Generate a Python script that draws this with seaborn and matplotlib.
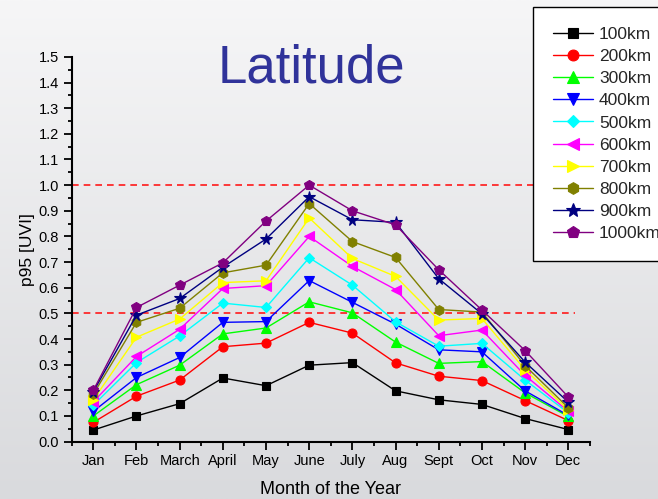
"""p95 UVI by month for altitudes 100-1000 km (latitude panel)."""

import matplotlib

matplotlib.use("Agg")
import matplotlib.pyplot as plt
import numpy as np
import pandas as pd
import seaborn as sns
from matplotlib.colors import LinearSegmentedColormap
from matplotlib.ticker import MultipleLocator

months = ["Jan", "Feb", "March", "April", "May", "June",
          "July", "Aug", "Sept", "Oct", "Nov", "Dec"]
altitudes = ["100km", "200km", "300km", "400km", "500km",
             "600km", "700km", "800km", "900km", "1000km"]

p95_100km = [0.045, 0.10, 0.148, 0.248, 0.218, 0.298, 0.308, 0.198, 0.163, 0.145, 0.090, 0.047]
p95_200km = [0.075, 0.177, 0.240, 0.370, 0.384, 0.465, 0.423, 0.307, 0.255, 0.238, 0.160, 0.082]
p95_300km = [0.100, 0.222, 0.298, 0.420, 0.443, 0.545, 0.502, 0.388, 0.305, 0.312, 0.190, 0.098]
p95_400km = [0.118, 0.250, 0.328, 0.465, 0.468, 0.628, 0.543, 0.458, 0.358, 0.350, 0.198, 0.102]
p95_500km = [0.142, 0.308, 0.412, 0.540, 0.523, 0.717, 0.610, 0.467, 0.372, 0.383, 0.240, 0.112]
p95_600km = [0.155, 0.332, 0.438, 0.597, 0.608, 0.800, 0.683, 0.593, 0.413, 0.435, 0.258, 0.118]
p95_700km = [0.163, 0.407, 0.478, 0.620, 0.627, 0.872, 0.714, 0.644, 0.474, 0.480, 0.280, 0.124]
p95_800km = [0.185, 0.465, 0.520, 0.658, 0.688, 0.928, 0.780, 0.718, 0.515, 0.505, 0.296, 0.132]
p95_900km = [0.195, 0.493, 0.558, 0.680, 0.790, 0.955, 0.865, 0.855, 0.635, 0.498, 0.310, 0.154]
p95_1000km = [0.200, 0.523, 0.610, 0.697, 0.860, 1.000, 0.900, 0.845, 0.670, 0.513, 0.355, 0.174]

thresholds = [1.0, 0.5]

series = [p95_100km, p95_200km, p95_300km, p95_400km, p95_500km,
          p95_600km, p95_700km, p95_800km, p95_900km, p95_1000km]

colors = ["#000000", "#ff0000", "#00ff00", "#0000ff", "#00ffff",
          "#ff00ff", "#ffff00", "#808000", "#000080", "#800080"]
marker_list = ["s", "o", "^", "v", "D", "<", ">", "h", "*", "p"]
marker_sizes = [5.5, 6.5, 7, 7, 5.5, 7, 7, 7, 8.5, 7.5]

frames = []
for alt, values in zip(altitudes, series):
    frames.append(pd.DataFrame({"month_idx": np.arange(len(months)),
                                "p95": values, "altitude": alt}))
df = pd.concat(frames, ignore_index=True)

sns.set_theme(style="ticks")
plt.rcParams["font.family"] = ["Liberation Sans", "DejaVu Sans"]

fig = plt.figure(figsize=(6.58, 4.99), dpi=100)

# light grey slide background
bg = fig.add_axes([0, 0, 1, 1], zorder=-10)
bg_cmap = LinearSegmentedColormap.from_list("bg", ["#f6f6f7", "#d9dadd"])
bg.imshow(np.linspace(0, 1, 256).reshape(-1, 1), aspect="auto", cmap=bg_cmap,
          extent=(0, 1, 0, 1))
bg.set_axis_off()

ax = fig.add_axes([0.109, 0.115, 0.7875, 0.771])
ax.set_facecolor("none")

sns.lineplot(
    data=df, x="month_idx", y="p95", hue="altitude", style="altitude",
    hue_order=altitudes, style_order=altitudes,
    palette=dict(zip(altitudes, colors)),
    markers=dict(zip(altitudes, marker_list)), dashes=False,
    linewidth=1, legend=False, sort=False, ax=ax,
)

series_lines = list(ax.lines[:len(altitudes)])
for line, size in zip(series_lines, marker_sizes):
    line.set_markeredgecolor(line.get_color())
    line.set_markerfacecolor(line.get_color())
    line.set_markersize(size)
    line.set_markeredgewidth(0.8)

for level in thresholds:
    ax.axhline(level, xmin=0, xmax=0.971, color="#ff1a1a", linewidth=1.2,
               linestyle=(0, (4, 3)), zorder=0.5)

ax.set_xlim(-0.5, 11.5)
ax.set_ylim(0, 1.5)
ax.set_xticks(range(len(months)), months)
ax.xaxis.set_minor_locator(MultipleLocator(0.5))
ax.yaxis.set_major_locator(MultipleLocator(0.1))
ax.yaxis.set_minor_locator(MultipleLocator(0.05))
ax.yaxis.set_major_formatter(plt.FormatStrFormatter("%.1f"))
ax.tick_params(which="major", direction="out", length=6, width=1.3,
               labelsize=10.5, color="black", labelcolor="black", pad=3)
ax.tick_params(which="minor", direction="out", length=3, width=1.3, color="black")
sns.despine(ax=ax)
for side in ["left", "bottom"]:
    ax.spines[side].set_linewidth(1.5)
    ax.spines[side].set_color("black")

ax.set_xlabel("Month of the Year", fontsize=13, color="black", labelpad=9)
ax.set_ylabel("p95 [UVI]", fontsize=12.5, color="black", labelpad=3)

fig.text(0.473, 0.834, "Latitude", fontsize=38, color="#30339a",
         ha="center", va="baseline")

ax.legend(
    series_lines, altitudes, loc="upper left",
    bbox_to_anchor=(533 / 658, 1 - 7 / 499), bbox_transform=fig.transFigure,
    borderaxespad=0, fontsize=12.5, frameon=True, fancybox=False, framealpha=1,
    edgecolor="black", facecolor="white", handlelength=2.3,
    markerscale=1.2, labelspacing=0.40, borderpad=1.15, handletextpad=0.35,
)
ax.get_legend().get_frame().set_linewidth(1.0)

fig.savefig("out.png", dpi=100)
plt.close(fig)
